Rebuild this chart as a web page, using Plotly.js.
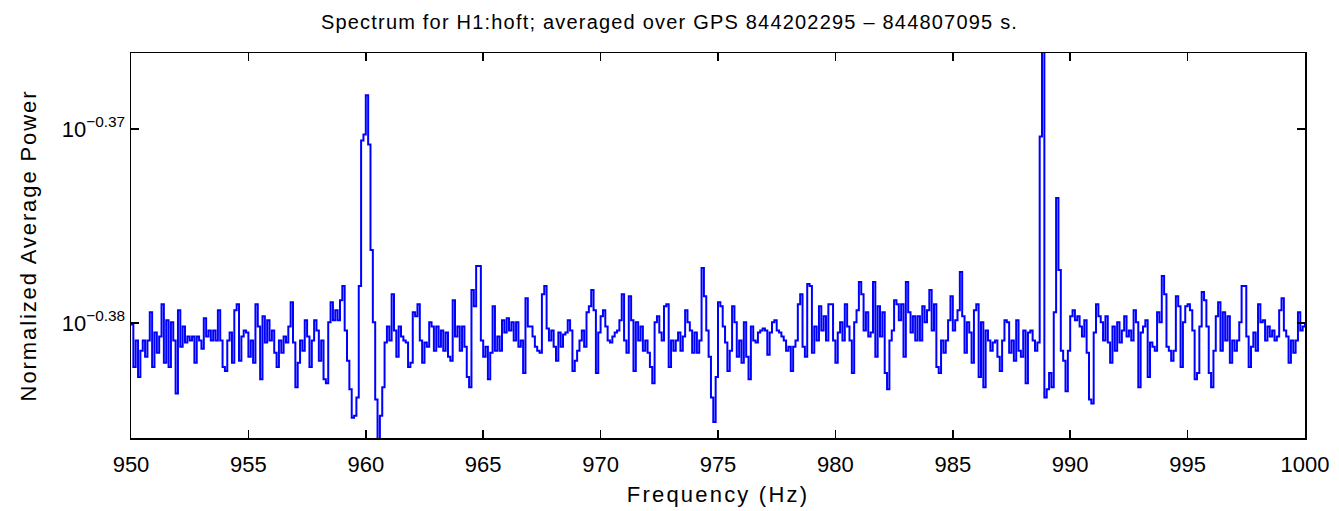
<!DOCTYPE html>
<html>
<head>
<meta charset="utf-8">
<script src="https://cdn.plot.ly/plotly-3.0.1.min.js"></script>
<style>
html,body{margin:0;padding:0;background:#fff;}
#chart{width:1339px;height:511px;}
#chart .gtitle{letter-spacing:1.2px;}
#chart .xtitle{letter-spacing:2.2px;}
#chart .ytitle{letter-spacing:1.9px;}
</style>
</head>
<body>
<div id="chart"></div>
<script>
// Frequency grid: 950 Hz to 1000 Hz in 0.1 Hz bins
const freqStart = 950;
const freqStep = 0.1;

// Normalized average power, 0.1 Hz bins
const power950to960 = [
0.4168,0.4147,0.4160,0.4142,0.4155,0.4160,0.4152,0.4160,0.4174,0.4147,
0.4164,0.4154,0.4162,0.4178,0.4149,0.4170,0.4147,0.4169,0.4160,0.4134,
0.4175,0.4157,0.4167,0.4159,0.4162,0.4160,0.4162,0.4149,0.4162,0.4160,
0.4156,0.4171,0.4162,0.4165,0.4160,0.4165,0.4160,0.4175,0.4160,0.4147,
0.4145,0.4160,0.4164,0.4149,0.4175,0.4178,0.4150,0.4162,0.4165,0.4164,
0.4152,0.4160,0.4149,0.4178,0.4167,0.4141,0.4172,0.4159,0.4170,0.4160,
0.4165,0.4154,0.4147,0.4160,0.4154,0.4162,0.4159,0.4167,0.4179,0.4159,
0.4137,0.4149,0.4160,0.4155,0.4170,0.4162,0.4147,0.4160,0.4170,0.4165,
0.4150,0.4160,0.4141,0.4139,0.4169,0.4179,0.4170,0.4175,0.4170,0.4180,
0.4187,0.4165,0.4150,0.4136,0.4122,0.4123,0.4132,0.4187,0.4260,0.4263
];
const power960to970 = [
0.4283,0.4258,0.4205,0.4169,0.4131,0.4111,0.4123,0.4137,0.4159,0.4167,
0.4160,0.4183,0.4165,0.4152,0.4167,0.4162,0.4160,0.4159,0.4147,0.4149,
0.4174,0.4172,0.4178,0.4160,0.4149,0.4159,0.4157,0.4169,0.4167,0.4155,
0.4167,0.4157,0.4165,0.4155,0.4164,0.4152,0.4150,0.4180,0.4162,0.4167,
0.4155,0.4167,0.4157,0.4142,0.4137,0.4185,0.4177,0.4197,0.4197,0.4160,
0.4152,0.4157,0.4141,0.4154,0.4177,0.4155,0.4162,0.4155,0.4170,0.4164,
0.4171,0.4165,0.4169,0.4160,0.4169,0.4157,0.4160,0.4144,0.4181,0.4167,
0.4167,0.4162,0.4157,0.4155,0.4154,0.4183,0.4187,0.4166,0.4160,0.4165,
0.4157,0.4150,0.4164,0.4157,0.4163,0.4164,0.4170,0.4165,0.4145,0.4150,
0.4155,0.4160,0.4165,0.4157,0.4174,0.4177,0.4185,0.4175,0.4144,0.4164
];
const power970to980 = [
0.4172,0.4175,0.4167,0.4160,0.4159,0.4162,0.4164,0.4165,0.4170,0.4183,
0.4160,0.4154,0.4182,0.4170,0.4145,0.4169,0.4160,0.4167,0.4155,0.4160,
0.4154,0.4147,0.4139,0.4169,0.4172,0.4164,0.4160,0.4177,0.4178,0.4147,
0.4160,0.4155,0.4160,0.4164,0.4155,0.4162,0.4175,0.4169,0.4165,0.4154,
0.4164,0.4154,0.4160,0.4196,0.4182,0.4165,0.4152,0.4132,0.4120,0.4142,
0.4179,0.4177,0.4167,0.4159,0.4145,0.4155,0.4177,0.4169,0.4152,0.4160,
0.4149,0.4169,0.4152,0.4141,0.4167,0.4160,0.4159,0.4164,0.4165,0.4166,
0.4165,0.4153,0.4164,0.4169,0.4170,0.4165,0.4164,0.4162,0.4160,0.4155,
0.4157,0.4145,0.4157,0.4160,0.4178,0.4183,0.4157,0.4152,0.4188,0.4187,
0.4154,0.4167,0.4160,0.4177,0.4165,0.4172,0.4160,0.4178,0.4178,0.4160
];
const power980to990 = [
0.4149,0.4164,0.4169,0.4160,0.4178,0.4167,0.4160,0.4144,0.4169,0.4175,
0.4189,0.4183,0.4165,0.4174,0.4162,0.4164,0.4189,0.4152,0.4177,0.4162,
0.4174,0.4144,0.4136,0.4160,0.4165,0.4180,0.4178,0.4170,0.4178,0.4152,
0.4189,0.4174,0.4164,0.4172,0.4160,0.4172,0.4160,0.4177,0.4169,0.4175,
0.4185,0.4165,0.4178,0.4147,0.4144,0.4160,0.4154,0.4160,0.4170,0.4182,
0.4165,0.4170,0.4175,0.4194,0.4172,0.4154,0.4169,0.4164,0.4149,0.4175,
0.4178,0.4142,0.4169,0.4137,0.4165,0.4160,0.4155,0.4159,0.4160,0.4152,
0.4145,0.4160,0.4170,0.4169,0.4154,0.4160,0.4150,0.4170,0.4155,0.4152,
0.4165,0.4139,0.4164,0.4165,0.4160,0.4155,0.4159,0.4262,0.4320,0.4132,
0.4136,0.4144,0.4137,0.4174,0.4231,0.4195,0.4155,0.4150,0.4135,0.4155
];
const power990to1000 = [
0.4172,0.4175,0.4170,0.4172,0.4167,0.4162,0.4170,0.4154,0.4131,0.4129,
0.4164,0.4178,0.4172,0.4169,0.4160,0.4172,0.4159,0.4149,0.4167,0.4155,
0.4169,0.4159,0.4165,0.4172,0.4162,0.4165,0.4160,0.4175,0.4169,0.4137,
0.4164,0.4167,0.4170,0.4142,0.4159,0.4157,0.4155,0.4174,0.4169,0.4192,
0.4183,0.4157,0.4155,0.4150,0.4155,0.4182,0.4177,0.4147,0.4169,0.4177,
0.4178,0.4175,0.4165,0.4141,0.4144,0.4167,0.4184,0.4180,0.4167,0.4144,
0.4137,0.4155,0.4172,0.4179,0.4155,0.4174,0.4160,0.4172,0.4149,0.4160,
0.4155,0.4160,0.4169,0.4187,0.4187,0.4162,0.4147,0.4157,0.4164,0.4155,
0.4178,0.4169,0.4170,0.4160,0.4167,0.4162,0.4165,0.4160,0.4162,0.4175,
0.4181,0.4165,0.4162,0.4149,0.4160,0.4154,0.4160,0.4174,0.4165,0.4167,
0.4169
];

const xTickVals = [950,955,960,965,970,975,980,985,990,995,1000];
const xTickText = ['950','955','960','965','970','975','980','985','990','995','1000'];
const yTickExponents = [-0.38, -0.37];
const yTickText = ['10<sup>\u22120.38</sup>', '10<sup>\u22120.37</sup>'];

const titleText = 'Spectrum for H1:hoft; averaged over GPS 844202295 \u2013 844807095 s.';
const xTitle = 'Frequency (Hz)';
const yTitle = 'Normalized Average Power';

const power = [].concat(power950to960, power960to970, power970to980, power980to990, power990to1000);

const fam = 'Liberation Sans, Arial, sans-serif';

const trace = {
  type: 'scatter',
  mode: 'lines',
  x0: freqStart,
  dx: freqStep,
  y: power,
  line: {color: '#0000ff', width: 2, shape: 'hv'},
  hoverinfo: 'x+y'
};

const layout = {
  width: 1339,
  height: 511,
  margin: {l: 131, r: 34, t: 53, b: 73},
  paper_bgcolor: '#ffffff',
  plot_bgcolor: '#ffffff',
  showlegend: false,
  font: {family: fam, size: 22, color: '#000'},
  title: {text: titleText, font: {family: fam, size: 20, color: '#000'}, x: 0.5, xref: 'container', xanchor: 'center', y: 0.957, yref: 'container', yanchor: 'middle'},
  xaxis: {
    range: [950, 1000],
    tickmode: 'array', tickvals: xTickVals, ticktext: xTickText,
    ticks: 'inside', ticklen: 8, tickwidth: 1.5, tickcolor: '#000',
    ticklabelstandoff: 6,
    showline: true, linecolor: '#000', linewidth: 1.5, mirror: 'ticks',
    showgrid: false, zeroline: false,
    tickfont: {family: fam, size: 22, color: '#000'},
    title: {text: xTitle, font: {family: fam, size: 22, color: '#000'}, standoff: 10},
    automargin: false
  },
  yaxis: {
    type: 'log',
    range: [-0.38593, -0.36608],
    tickmode: 'array', tickvals: yTickExponents.map(e => Math.pow(10, e)), ticktext: yTickText,
    ticks: 'inside', ticklen: 8, tickwidth: 1.5, tickcolor: '#000',
    showline: true, linecolor: '#000', linewidth: 1.5, mirror: 'ticks',
    showgrid: false, zeroline: false,
    tickfont: {family: fam, size: 22, color: '#000'},
    title: {text: yTitle, font: {family: fam, size: 22, color: '#000'}, standoff: 19},
    automargin: false
  }
};

Plotly.newPlot('chart', [trace], layout, {displayModeBar: false, staticPlot: true});
</script>
</body>
</html>
